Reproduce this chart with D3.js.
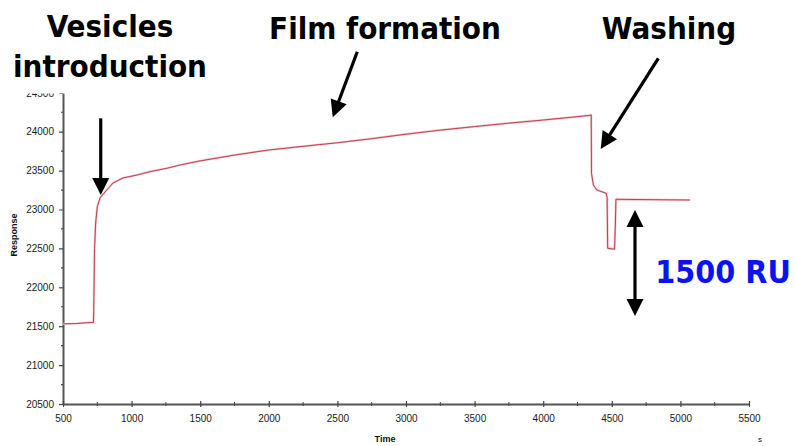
<!DOCTYPE html>
<html>
<head>
    <title>SPR sensorgram</title>
</head>
<meta charset="utf-8">
<style type="text/css">
    html, body {
        margin: 0;
        background: #fff;
    }

    .tick-label {
        font-family: "Liberation Sans", Arial, sans-serif;
        font-size: 10px;
        fill: #1a1a1a;
    }

    .axis-title {
        font-family: "Liberation Sans", Arial, sans-serif;
        font-size: 10px;
        font-weight: bold;
        fill: #111;
    }

    .note {
        font-family: "DejaVu Sans Condensed", "DejaVu Sans", sans-serif;
        font-stretch: condensed;
        font-weight: bold;
        font-size: 31px;
        fill: #000;
    }
</style>

<body>
<svg id="wrapper" width="795" height="446"></svg>

<script type="text/javascript" src="https://cdn.jsdelivr.net/npm/d3@7"></script>

<script>
    "use strict";

    // sensorgram
    const time = [500, 600, 680, 722, 724, 730, 738, 750, 770, 800, 864, 937, 1039, 1134, 1265,
        1353, 1500, 1750, 2000, 2250, 2500, 2750, 3000, 3250, 3500, 3750, 4000, 4200, 4341,
        4350, 4352, 4366, 4390, 4460, 4466, 4470, 4520, 4526, 4530, 4800, 5070];
    const response = [21530, 21535, 21545, 21550, 21700, 22500, 22826, 23036, 23150, 23212, 23340, 23405, 23443, 23486, 23533,
        23572, 23625, 23700, 23765, 23812, 23858, 23910, 23968, 24020, 24066, 24110, 24150, 24185, 24210,
        24216, 23465, 23315, 23251, 23208, 23150, 22501, 22490, 22800, 23131, 23126, 23122];

    const xTicks = [500, 1000, 1500, 2000, 2500, 3000, 3500, 4000, 4500, 5000, 5500];
    const yTicks = [20500, 21000, 21500, 22000, 22500, 23000, 23500, 24000, 24500];

    // arrows pointing at the curve, in data units [time, response]
    const arrows = [
        {from: [775, 24172], to: [775, 23186]},
        {from: [2645, 25028], to: [2466, 24185]},
        {from: [4839, 24943], to: [4419, 23778]}
    ];
    const span = {t: 4669, top: 22994, bottom: 21631};

    const svg = d3.select("svg");

    const x = d3.scaleLinear().domain([500, 5500]).range([63, 749]);
    const y = d3.scaleLinear().domain([20500, 24500]).range([404, 92.8]);

    // clip so the top tick label is cut the way the screenshot crop cut it
    svg.append("defs").append("clipPath").attr("id", "cut")
        .append("rect").attr("x", 0).attr("y", 93.5).attr("width", 795).attr("height", 355);

    const axes = svg.append("g").attr("clip-path", "url(#cut)");

    // y axis
    const yAxis = d3.axisLeft(y).tickValues(yTicks).tickFormat(d3.format("d"))
        .tickSize(4).tickSizeOuter(0).tickPadding(5);
    const gy = axes.append("g").attr("transform", "translate(63,0)").call(yAxis);
    gy.select(".domain").attr("stroke", "#555").attr("stroke-width", 2);
    gy.selectAll(".tick line").attr("stroke", "#444").attr("stroke-width", 1.2);
    gy.selectAll(".tick text").attr("class", "tick-label").attr("font-family", null).attr("font-size", null);

    // x axis
    const xAxis = d3.axisBottom(x).tickValues(xTicks).tickFormat(d3.format("d"))
        .tickSize(3).tickSizeOuter(0).tickPadding(8);
    const gx = axes.append("g").attr("transform", "translate(0,404)").call(xAxis);
    gx.select(".domain").attr("stroke", "#555").attr("stroke-width", 2);
    gx.selectAll(".tick line").attr("y1", -3).attr("stroke", "#444").attr("stroke-width", 1.2);
    gx.selectAll(".tick text").attr("class", "tick-label").attr("font-family", null).attr("font-size", null);

    // minor ticks
    axes.append("g").selectAll("line")
        .data(d3.range(20750, 24500, 500))
        .join("line")
        .attr("x1", 61).attr("x2", 63)
        .attr("y1", d => y(d)).attr("y2", d => y(d))
        .attr("stroke", "#444").attr("stroke-width", 1.2);
    axes.append("g").selectAll("line")
        .data(d3.range(750, 5500, 500))
        .join("line")
        .attr("x1", d => x(d)).attr("x2", d => x(d))
        .attr("y1", 402).attr("y2", 406)
        .attr("stroke", "#444").attr("stroke-width", 1);

    // axis titles
    svg.append("text").attr("class", "axis-title")
        .attr("transform", "translate(17,235) rotate(-90)")
        .attr("text-anchor", "middle")
        .style("font-size", "9px")
        .text("Response");
    svg.append("text").attr("class", "axis-title")
        .attr("x", 385).attr("y", 442)
        .attr("text-anchor", "middle")
        .style("font-size", "9px")
        .text("Time");
    svg.append("text").attr("class", "axis-title")
        .attr("x", 760).attr("y", 442)
        .attr("text-anchor", "middle")
        .style("font-size", "8px")
        .style("font-weight", "normal")
        .text("s");

    // curve
    const pts = time.map((t, i) => [t, response[i]]);
    const line = d3.line().x(d => x(d[0])).y(d => y(d[1]));
    svg.append("path").datum(pts)
        .attr("d", line)
        .attr("fill", "none")
        .attr("stroke", "#efc4c9")
        .attr("stroke-width", 2.2)
        .attr("stroke-linejoin", "round");
    svg.append("path").datum(pts)
        .attr("d", line)
        .attr("fill", "none")
        .attr("stroke", "#c0404f")
        .attr("stroke-width", 1)
        .attr("stroke-linejoin", "round");

    // arrows
    function arrowHead(g, x1, y1, x2, y2) {
        const len = 17, half = 8.5;
        const dx = x2 - x1, dy = y2 - y1, d = Math.hypot(dx, dy);
        const ux = dx / d, uy = dy / d;
        const bx = x2 - ux * len, by = y2 - uy * len;
        g.append("line")
            .attr("x1", x1).attr("y1", y1).attr("x2", bx + ux * 2).attr("y2", by + uy * 2)
            .attr("stroke", "#000").attr("stroke-width", 3.2);
        g.append("path")
            .attr("d", `M${x2},${y2}L${bx - uy * half},${by + ux * half}L${bx + uy * half},${by - ux * half}Z`)
            .attr("fill", "#000");
    }

    const ga = svg.append("g");
    arrows.forEach(a => {
        arrowHead(ga, x(a.from[0]), y(a.from[1]), x(a.to[0]), y(a.to[1]));
    });
    const mid = (y(span.top) + y(span.bottom)) / 2;
    arrowHead(ga, x(span.t), mid, x(span.t), y(span.top));
    arrowHead(ga, x(span.t), mid, x(span.t), y(span.bottom));

    // annotations
    svg.append("text").attr("class", "note").attr("x", 110).attr("y", 37).attr("text-anchor", "middle").text("Vesicles");
    svg.append("text").attr("class", "note").attr("x", 110).attr("y", 77).attr("text-anchor", "middle").text("introduction");
    svg.append("text").attr("class", "note").attr("x", 385).attr("y", 39).attr("text-anchor", "middle").text("Film formation");
    svg.append("text").attr("class", "note").attr("x", 669).attr("y", 39).attr("text-anchor", "middle").text("Washing");
    svg.append("text").attr("class", "note").attr("x", 723).attr("y", 283).attr("text-anchor", "middle")
        .style("fill", "#0a14f0").style("font-size", "32px").text("1500 RU");
</script>
</body>
</html>
